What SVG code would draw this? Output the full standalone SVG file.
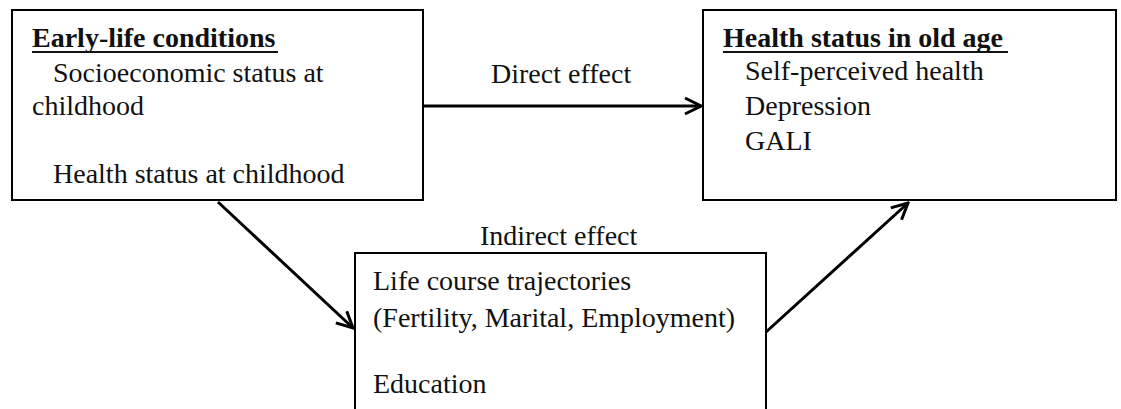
<svg xmlns="http://www.w3.org/2000/svg" width="1121" height="409" viewBox="0 0 1121 409">
<style>
.box{fill:#fff;stroke:#000;stroke-width:2}
.t{font-family:"Liberation Serif","Times New Roman",serif;font-size:28px;fill:#111}
.b{font-weight:bold}
.ul{stroke:#111;stroke-width:2}
.conn{stroke:#000;stroke-width:3;fill:none}
</style>
<defs>
<marker id="ah" viewBox="0 0 20 20" refX="18" refY="10" markerWidth="20" markerHeight="20" markerUnits="userSpaceOnUse" orient="auto">
<path d="M2,2 L18,10 L2,18" fill="none" stroke="#000" stroke-width="3"/>
</marker>
</defs>
<rect width="1121" height="409" fill="#fff"/>
<g id="early-life">
<rect class="box" x="12" y="10" width="411" height="190"/>
<text class="t b" x="32" y="47">Early-life  conditions</text>
<line class="ul" x1="32" y1="52" x2="278" y2="52"/>
<text class="t" x="53" y="82">Socioeconomic status at</text>
<text class="t" x="32" y="115">childhood</text>
<text class="t" x="53" y="183">Health status at childhood</text>
</g>
<g id="health-old-age">
<rect class="box" x="703" y="10" width="413" height="190"/>
<text class="t b" x="723" y="47">Health status in old age</text>
<line class="ul" x1="723" y1="52" x2="1008" y2="52"/>
<text class="t" x="745" y="80">Self-perceived health</text>
<text class="t" x="745" y="115">Depression</text>
<text class="t" x="745" y="150">GALI</text>
</g>
<g id="life-course">
<rect class="box" x="355" y="253" width="411" height="170"/>
<text class="t" x="373" y="290">Life course trajectories</text>
<text class="t" x="373" y="327">(Fertility, Marital, Employment)</text>
<text class="t" x="373" y="393">Education</text>
</g>
<g id="connectors">
<line class="conn" x1="423" y1="106" x2="701" y2="106" marker-end="url(#ah)"/>
<line class="conn" x1="218" y1="202" x2="353" y2="328" marker-end="url(#ah)"/>
<line class="conn" x1="766" y1="332" x2="908" y2="203" marker-end="url(#ah)"/>
<text class="t" x="491" y="83">Direct effect</text>
<text class="t" x="480" y="245">Indirect effect</text>
</g>
</svg>
